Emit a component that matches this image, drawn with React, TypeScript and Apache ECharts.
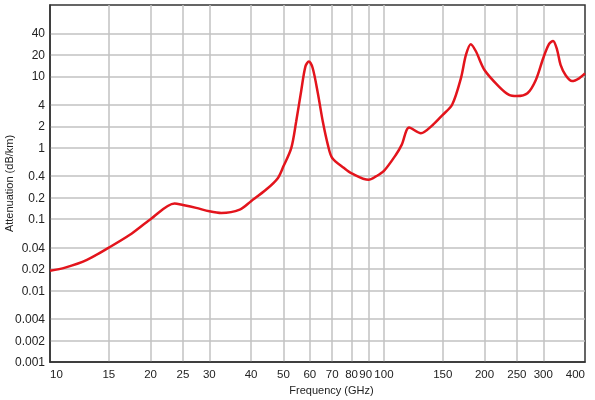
import * as echarts from 'echarts';
import { useEffect, useRef } from 'react';

// frequency (GHz) and attenuation (dB/km)
const freqGHz = [
  10, 11.1, 12.9, 15, 17.3, 20, 23.6, 25, 27.4, 30, 32.6, 37, 40, 44.4, 48.1, 50, 52.8, 54.6, 56.5, 58.2,
  59.6, 61.2, 63.4, 65.6, 67.9, 70, 76, 80, 90, 94.6, 100, 108.6, 113, 119, 129, 140, 150, 160, 170, 176,
  182, 188.5, 200, 221, 237, 250, 269, 285, 300, 312, 321, 330, 338, 350, 366, 384, 400
];
const attenDbKm = [
  0.019, 0.021, 0.027, 0.04, 0.06, 0.1, 0.166, 0.158, 0.144, 0.129, 0.122, 0.136, 0.179, 0.26, 0.376,
  0.55, 1.0, 2.33, 6.2, 13.8, 16.2, 13.0, 5.8, 2.33, 1.11, 0.72, 0.52, 0.44, 0.356, 0.397, 0.475, 0.8,
  1.1, 1.92, 1.6, 2.09, 2.9, 4.0, 9.4, 20, 28.3, 22.5, 12.3, 7.2, 5.5, 5.3, 5.8, 8.9, 18.1, 28.3, 31.4,
  23.6, 14.5, 10.4, 8.6, 9.4, 11
];

const xTicks = [10, 15, 20, 25, 30, 40, 50, 60, 70, 80, 90, 100, 150, 200, 250, 300, 400];
const yTicks = [0.001, 0.002, 0.004, 0.01, 0.02, 0.04, 0.1, 0.2, 0.4, 1, 2, 4, 10, 20, 40];
const xRange = [10, 400];
const yRange = [0.001, 100];

const lg = Math.log10;

function fmt(v: number) {
  const n = Math.pow(10, v);
  return n >= 1 ? String(Math.round(n)) : String(parseFloat(n.toPrecision(3)));
}

const FONT = '"Liberation Sans", Arial, sans-serif';

export default function App() {
  const elRef = useRef<HTMLDivElement | null>(null);

  useEffect(() => {
    if (!elRef.current) return;
    const chart = echarts.init(elRef.current, undefined, { renderer: 'svg' });

    // gridlines only inside the frame, the box itself is the grid border
    const inner = (ticks: number[], range: number[]) =>
      ticks.filter((t) => t > range[0] && t < range[1]).map(lg);

    chart.setOption({
      animation: false,
      grid: {
        left: 50,
        right: 10,
        top: 5,
        bottom: 38,
        containLabel: false,
        outerBoundsMode: 'none',
        show: true,
        borderColor: '#333',
        borderWidth: 1.5,
        backgroundColor: '#fff'
      },
      xAxis: {
        type: 'value',
        min: lg(xRange[0]),
        max: lg(xRange[1]),
        name: 'Frequency (GHz)',
        nameLocation: 'middle',
        nameGap: 22,
        nameMoveOverlap: false,
        nameTextStyle: { fontFamily: FONT, fontSize: 11, color: '#222', padding: [0, 0, 0, 28] },
        axisLine: { show: true, onZero: false, lineStyle: { color: '#333', width: 1.5 } },
        axisTick: { show: false, customValues: inner(xTicks, xRange) },
        axisLabel: {
          customValues: xTicks.map(lg),
          formatter: (v: number) => (fmt(v) === '90' ? '{n|90}' : fmt(v)),
          rich: { n: { fontFamily: FONT, fontSize: 11.5, color: '#222', padding: [0, 6, 0, 0] } },
          fontFamily: FONT,
          fontSize: 11.5,
          color: '#222',
          margin: 6,
          alignMinLabel: 'left',
          alignMaxLabel: 'right'
        },
        splitLine: { show: true, lineStyle: { color: '#c2c2c2', width: 1.5 } }
      },
      yAxis: {
        type: 'value',
        min: lg(yRange[0]),
        max: lg(yRange[1]),
        name: 'Attenuation (dB/km)',
        nameLocation: 'middle',
        nameGap: 36,
        nameMoveOverlap: false,
        nameTextStyle: { fontFamily: FONT, fontSize: 11, color: '#222' },
        axisLine: { show: true, onZero: false, lineStyle: { color: '#333', width: 1.5 } },
        axisTick: { show: false, customValues: inner(yTicks, yRange) },
        axisLabel: {
          customValues: yTicks.map(lg),
          formatter: fmt,
          fontFamily: FONT,
          fontSize: 12,
          color: '#222',
          margin: 5
        },
        splitLine: { show: true, lineStyle: { color: '#c2c2c2', width: 1.5 } }
      },
      series: [
        {
          type: 'line',
          data: freqGHz.map((f, i) => [lg(f), lg(attenDbKm[i])]),
          smooth: 0.3,
          showSymbol: false,
          lineStyle: { color: '#e3141c', width: 2.5 }
        }
      ]
    });

    return () => chart.dispose();
  }, []);

  return <div ref={elRef} style={{ position: 'fixed', left: 0, top: 0, width: 595, height: 400 }} />;
}
